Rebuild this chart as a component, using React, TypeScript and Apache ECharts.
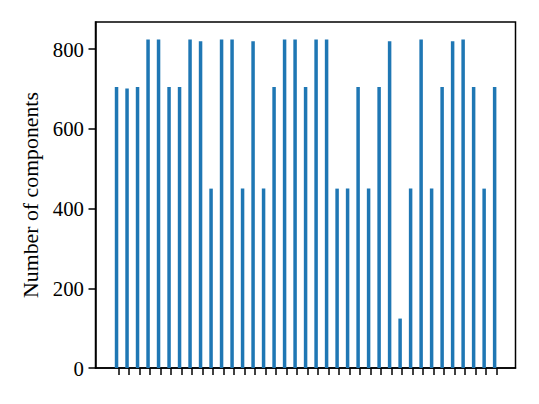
import React, { useEffect, useRef } from "react";
import * as echarts from "echarts";

// x positions of the bars (tick positions)
const positions: number[] = Array.from({ length: 37 }, (_, i) => i);
// number of components for each bar
const componentCounts: number[] = [
  705, 701, 705, 824, 824, 705, 705, 824, 820, 450, 824, 824, 450, 820, 450,
  705, 824, 824, 705, 824, 824, 450, 450, 705, 450, 705, 820, 124, 450, 824,
  450, 705, 820, 824, 705, 450, 705,
];
const yTicks: number[] = [0, 200, 400, 600, 800];
const yAxisTitle = "Number of components";

export default function App() {
  const ref = useRef<HTMLDivElement>(null);
  useEffect(() => {
    if (!ref.current) return;
    const chart = echarts.init(ref.current, null, { renderer: "svg" });
    const font = "Liberation Serif";
    chart.setOption({
      animation: false,
      backgroundColor: "#ffffff",
      textStyle: { fontFamily: font },
      grid: {
        left: 95.5,
        top: 22,
        width: 420,
        height: 346,
        show: true,
        borderColor: "#000",
        borderWidth: 1.5,
        backgroundColor: "transparent",
      },
      xAxis: {
        type: "value",
        min: -2.17,
        max: 37.82,
        splitLine: { show: false },
        axisLine: { show: true, onZero: false, lineStyle: { color: "#000", width: 1.5 } },
        axisTick: {
          show: true,
          inside: false,
          length: 7,
          customValues: positions,
          lineStyle: { color: "#000", width: 1.5 },
        },
        axisLabel: { show: false },
      },
      yAxis: {
        type: "value",
        min: 0,
        max: 868,
        name: yAxisTitle,
        nameLocation: "middle",
        nameGap: 48,
        nameRotate: 90,
        nameTextStyle: { fontFamily: font, fontSize: 21.8, color: "#000" },
        splitLine: { show: false },
        axisLine: { show: true, onZero: false, lineStyle: { color: "#000", width: 1.5 } },
        axisTick: {
          show: true,
          inside: false,
          length: 7,
          customValues: yTicks,
          lineStyle: { color: "#000", width: 1.5 },
        },
        axisLabel: {
          customValues: yTicks,
          fontFamily: font,
          fontSize: 20.8,
          color: "#000",
          margin: 11.5,
        },
      },
      series: [
        {
          type: "bar",
          data: positions.map((p, i) => [p, componentCounts[i]]),
          barWidth: 3.5,
          barGap: "0%",
          itemStyle: { color: "#1f77b4" },
        },
        {
          type: "bar",
          data: positions.map((p) => [p, "-"]),
          barWidth: 3.5,
          barGap: "0%",
          itemStyle: { color: "transparent" },
          silent: true,
        },
      ],
    });
    return () => chart.dispose();
  }, []);
  return (
    <div
      ref={ref}
      style={{ position: "fixed", left: 0, top: 0, width: 539, height: 404 }}
    />
  );
}
